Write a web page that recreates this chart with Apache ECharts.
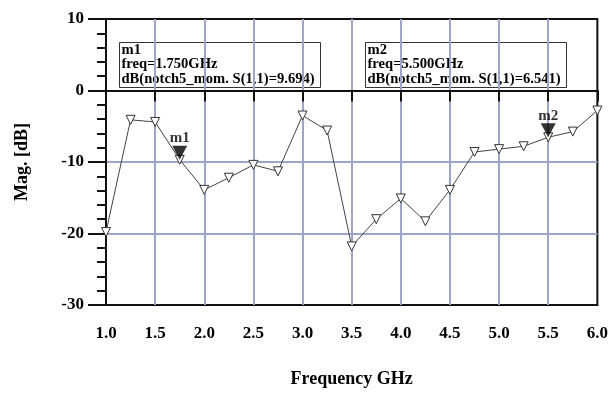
<!DOCTYPE html>
<html>
<head>
<meta charset="utf-8">
<script src="https://cdn.jsdelivr.net/npm/echarts@6/dist/echarts.min.js"></script>
<style>
  html, body { margin: 0; padding: 0; background: #fff; }
  #main { width: 611px; height: 393px; }
</style>
</head>
<body>
<div id="main"></div>
<script>
var freqs = [1.0, 1.25, 1.5, 1.75, 2.0, 2.25, 2.5, 2.75, 3.0, 3.25, 3.5,
             3.75, 4.0, 4.25, 4.5, 4.75, 5.0, 5.25, 5.5, 5.75, 6.0];
var magDb = [-19.8, -4.1, -4.4, -9.694, -13.9, -12.2, -10.4, -11.3, -3.5, -5.6, -21.8,
             -18.0, -15.1, -18.3, -13.9, -8.6, -8.2, -7.8, -6.541, -5.75, -2.8];

var markerNames = ['m1', 'm2'];
var markerFreqs = [1.75, 5.5];
var markerDb = [-9.694, -6.541];
var markerReadout = ['9.694', '6.541'];

var serif = '"Liberation Serif", "DejaVu Serif", serif';
var gridColor = '#9ba6c9';

var chart = echarts.init(document.getElementById('main'));

var lineData = freqs.map(function (f, i) { return [f, magDb[i]]; });
var markData = markerFreqs.map(function (f, i) {
    return { value: [f, markerDb[i]], name: markerNames[i] };
});

// marker readout boxes
var boxX = [117, 363];
var graphics = markerNames.map(function (name, i) {
    return {
        type: 'group',
        left: boxX[i],
        top: 40,
        children: [
            {
                type: 'rect',
                shape: { x: 0, y: 0, width: 201, height: 45 },
                style: { fill: 'none', stroke: '#333', lineWidth: 1 }
            },
            {
                type: 'text',
                x: 2,
                y: 0,
                style: {
                    text: name + '\nfreq=' + markerFreqs[i].toFixed(3) + 'GHz\n' +
                          'dB(notch5_mom. S(1,1)=' + markerReadout[i] + ')',
                    fontFamily: serif,
                    fontWeight: 'bold',
                    fontSize: 14.6,
                    lineHeight: 14.5,
                    fill: '#000'
                }
            }
        ]
    };
});

var option = {
    animation: false,
    backgroundColor: '#fff',
    grid: {
        left: 106, right: 13, top: 19, bottom: 86,
        show: true,
        borderColor: '#111',
        borderWidth: 2
    },
    xAxis: {
        type: 'value',
        min: 1, max: 6, interval: 0.5,
        name: 'Frequency GHz',
        nameLocation: 'middle',
        nameGap: 65,
        nameTextStyle: { fontFamily: serif, fontWeight: 'bold', fontSize: 18, color: '#000' },
        axisLine: { lineStyle: { color: '#111', width: 2 } },
        axisTick: { length: 11, lineStyle: { color: '#111', width: 2 } },
        axisLabel: {
            margin: 20,
            fontFamily: serif, fontWeight: 'bold', fontSize: 17, color: '#000',
            formatter: function (v) { return v.toFixed(1); }
        },
        splitLine: {
            show: true, showMinLine: false, showMaxLine: false,
            lineStyle: { color: gridColor, width: 2 }
        }
    },
    yAxis: {
        type: 'value',
        min: -30, max: 10, interval: 10,
        name: 'Mag. [dB]',
        nameLocation: 'middle',
        nameGap: 75,
        nameTextStyle: { fontFamily: serif, fontWeight: 'bold', fontSize: 18, color: '#000' },
        axisLine: { show: true, lineStyle: { color: '#111', width: 2 } },
        axisTick: { show: true, length: 18, lineStyle: { color: '#111', width: 2 } },
        minorTick: { show: true, splitNumber: 5, length: 9, lineStyle: { color: '#111', width: 2 } },
        axisLabel: {
            margin: 22,
            fontFamily: serif, fontWeight: 'bold', fontSize: 17, color: '#000'
        },
        splitLine: {
            show: true, showMinLine: false, showMaxLine: false,
            lineStyle: { color: gridColor, width: 2 }
        }
    },
    series: [
        {
            type: 'line',
            data: lineData,
            symbol: 'triangle',
            symbolRotate: 180,
            symbolSize: 9,
            lineStyle: { color: '#444', width: 1 },
            itemStyle: { color: '#fff', borderColor: '#333', borderWidth: 1 },
            z: 3
        },
        {
            type: 'scatter',
            data: markData,
            symbol: 'triangle',
            symbolRotate: 180,
            symbolSize: [15, 14],
            symbolOffset: [0, -7],
            itemStyle: { color: '#000' },
            label: {
                show: true,
                position: 'top',
                distance: 0,
                formatter: '{b}',
                fontFamily: serif, fontWeight: 'bold', fontSize: 15, color: '#000'
            },
            z: 4
        }
    ],
    graphic: graphics
};

chart.setOption(option);
</script>
</body>
</html>
